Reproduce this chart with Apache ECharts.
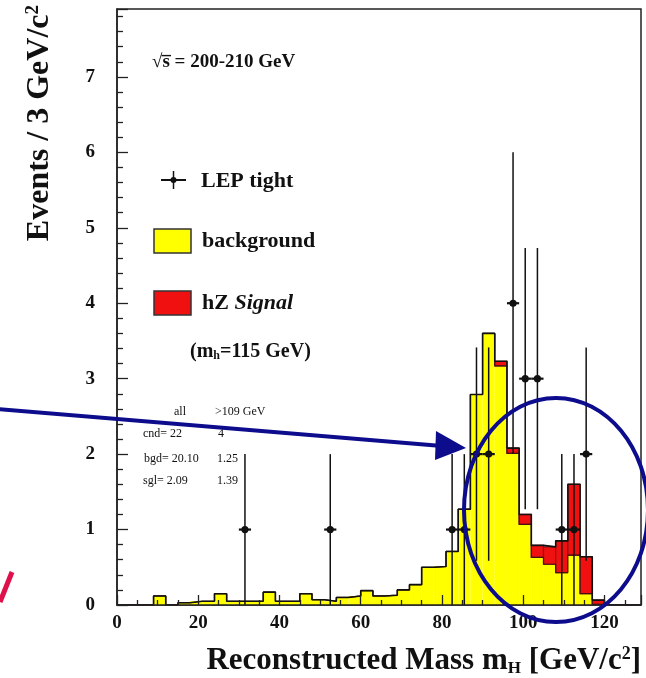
<!DOCTYPE html>
<html>
<head>
<meta charset="utf-8">
<script src="https://cdn.jsdelivr.net/npm/echarts@6/dist/echarts.min.js"></script>
<style>
  html, body { margin: 0; padding: 0; background: #ffffff; }
  #main { width: 646px; height: 678px; }
</style>
</head>
<body>
<div id="main"></div>
<script>
// Histogram binning: 3 GeV/c^2 bins starting at 0
const binWidth = 3;
const binStart = 0;

// Expected background per bin (events / 3 GeV/c^2)
const background = [
  0, 0, 0, 0.12, 0, 0.03, 0.05, 0.05, 0.15, 0.05,
  0.05, 0.05, 0.17, 0.05, 0.05, 0.15, 0.07, 0.05, 0.10, 0.12,
  0.19, 0.12, 0.13, 0.20, 0.27, 0.50, 0.51, 0.71, 1.27, 2.79,
  3.60, 3.17, 2.01, 1.07, 0.63, 0.54, 0.43, 0.66, 0.15, 0.01,
  0, 0, 0
];

// Expected hZ signal (m_h = 115 GeV) stacked on top of the background
const signal = [
  0, 0, 0, 0, 0, 0, 0, 0, 0, 0,
  0, 0, 0, 0, 0, 0, 0, 0, 0, 0,
  0, 0, 0, 0, 0, 0, 0, 0, 0, 0,
  0, 0.06, 0.07, 0.13, 0.16, 0.23, 0.42, 0.94, 0.49, 0.055,
  0, 0, 0
];

// Selected candidates (LEP tight): bin centre and event count
const dataMass = [31.5, 52.5, 82.5, 85.5, 88.5, 91.5, 97.5, 100.5, 103.5, 109.5, 112.5, 115.5];
const dataEvents = [1, 1, 1, 1, 2, 2, 4, 3, 3, 1, 1, 2];

// Axis ranges and tick spacing
const xRange = [0, 129];
const xStep = 20;
const yRange = [0, 7.9];
const yStep = 1;

const SERIF = '"Liberation Serif", "DejaVu Serif", serif';

const histData = background.map((b, i) => {
  const lo = binStart + i * binWidth;
  return [lo, lo + binWidth, b, signal[i]];
});

function stepLine(values) {
  const pts = [];
  values.forEach((v, i) => {
    const lo = binStart + i * binWidth;
    pts.push([lo, v], [lo + binWidth, v]);
  });
  return pts;
}
const totalValues = background.map((b, i) => b + signal[i]);

const chart = echarts.init(document.getElementById('main'), null, { renderer: 'canvas' });

const tickFont = { fontFamily: SERIF, fontWeight: 'bold', fontSize: 19, color: '#111' };

const option = {
  animation: false,
  backgroundColor: '#ffffff',
  grid: {
    left: 117, right: 5, top: 9, bottom: 73,
    show: true, borderColor: '#222', borderWidth: 1.5,
    backgroundColor: 'transparent',
    outerBoundsMode: 'none'
  },
  xAxis: {
    type: 'value', min: xRange[0], max: xRange[1], interval: xStep, z: 10,
    axisLine: { show: true, onZero: false, lineStyle: { color: '#222', width: 1.5 } },
    axisTick: { show: true, inside: true, length: 10, lineStyle: { color: '#222', width: 1.3 } },
    minorTick: { show: true, splitNumber: 4, length: 5, lineStyle: { color: '#222', width: 1.3 } },
    axisLabel: Object.assign({ margin: 9, showMaxLabel: false }, tickFont),
    splitLine: { show: false }
  },
  yAxis: {
    type: 'value', min: yRange[0], max: yRange[1], interval: yStep, z: 10,
    axisLine: { show: true, onZero: false, lineStyle: { color: '#222', width: 1.5 } },
    axisTick: { show: true, inside: true, length: 11, lineStyle: { color: '#222', width: 1.3 } },
    minorTick: { show: true, splitNumber: 5, length: 6, lineStyle: { color: '#222', width: 1.3 } },
    axisLabel: Object.assign({ margin: 22, showMaxLabel: false }, tickFont),
    splitLine: { show: false }
  },
  series: [
    {
      name: 'background + signal',
      type: 'custom',
      data: histData,
      z: 2,
      renderItem(params, api) {
        const lo = api.value(0), hi = api.value(1), b = api.value(2), s = api.value(3);
        const p0 = api.coord([lo, 0]);
        const p1 = api.coord([hi, b]);
        const p2 = api.coord([hi, b + s]);
        const children = [];
        if (b > 0) {
          children.push({
            type: 'rect',
            shape: { x: p0[0], y: p1[1], width: p1[0] - p0[0], height: p0[1] - p1[1] },
            style: { fill: '#ffff00' }
          });
        }
        if (s > 0) {
          children.push({
            type: 'rect',
            shape: { x: p0[0], y: p2[1], width: p1[0] - p0[0], height: p1[1] - p2[1] },
            style: { fill: '#f01010', stroke: '#8a1414', lineWidth: 1.2 }
          });
        }
        return { type: 'group', children };
      }
    },
    {
      name: 'background outline',
      type: 'line',
      data: stepLine(background),
      symbol: 'none',
      z: 3,
      lineStyle: { color: '#4a1010', width: 1.2 }
    },
    {
      name: 'total outline',
      type: 'line',
      data: stepLine(totalValues),
      symbol: 'none',
      z: 4,
      lineStyle: { color: '#111', width: 1.6 }
    },
    {
      name: 'LEP tight',
      type: 'custom',
      z: 6,
      data: dataMass.map((m, i) => [m, dataEvents[i]]),
      renderItem(params, api) {
        const m = api.value(0), n = api.value(1);
        const err = Math.sqrt(n);
        const top = api.coord([m, n + err]);
        const bot = api.coord([m, Math.max(0, n - err)]);
        const left = api.coord([m - binWidth / 2, n]);
        const right = api.coord([m + binWidth / 2, n]);
        const c = api.coord([m, n]);
        return {
          type: 'group',
          children: [
            { type: 'line', shape: { x1: top[0], y1: top[1], x2: bot[0], y2: bot[1] }, style: { stroke: '#111', lineWidth: 1.5 } },
            { type: 'line', shape: { x1: left[0], y1: left[1], x2: right[0], y2: right[1] }, style: { stroke: '#111', lineWidth: 2.2 } },
            { type: 'circle', shape: { cx: c[0], cy: c[1], r: 3.6 }, style: { fill: '#111' } }
          ]
        };
      }
    }
  ],
  graphic: [
    // y-axis title
    {
      type: 'text', x: 40, y: 5, rotation: Math.PI / 2, z: 20,
      style: {
        text: 'Events / 3 GeV/c{sup|2}',
        font: 'bold 32px ' + SERIF, fill: '#111',
        align: 'right', verticalAlign: 'middle',
        rich: { sup: { font: 'bold 19px ' + SERIF, fill: '#111', verticalAlign: 'top', padding: [0, 0, 14, 0] } }
      }
    },
    // x-axis title
    {
      type: 'text', x: 641, y: 661, z: 20,
      style: {
        text: 'Reconstructed Mass m{sub|H} [GeV/c{sup|2}]',
        font: 'bold 31px ' + SERIF, fill: '#111',
        align: 'right', verticalAlign: 'middle',
        rich: {
          sub: { font: 'bold 17px ' + SERIF, fill: '#111', verticalAlign: 'bottom', padding: [10, 0, 0, 0] },
          sup: { font: 'bold 18px ' + SERIF, fill: '#111', verticalAlign: 'top', padding: [0, 0, 14, 0] }
        }
      }
    },
    // centre-of-mass energy
    {
      type: 'text', x: 152, y: 62, z: 20,
      style: { text: '\u221As\u0305 = 200-210 GeV', font: 'bold 19px ' + SERIF, fill: '#111', verticalAlign: 'middle' }
    },
    // legend: data marker
    { type: 'line', z: 20, shape: { x1: 161, y1: 180, x2: 186, y2: 180 }, style: { stroke: '#111', lineWidth: 2 } },
    { type: 'line', z: 20, shape: { x1: 173.5, y1: 171, x2: 173.5, y2: 189 }, style: { stroke: '#111', lineWidth: 1.5 } },
    { type: 'circle', z: 20, shape: { cx: 173.5, cy: 180, r: 3 }, style: { fill: '#111' } },
    { type: 'text', x: 201, y: 181, z: 20, style: { text: 'LEP tight', font: 'bold 22px ' + SERIF, fill: '#111', verticalAlign: 'middle' } },
    // legend: background
    { type: 'rect', z: 20, shape: { x: 154, y: 229, width: 37, height: 24 }, style: { fill: '#ffff00', stroke: '#333', lineWidth: 1.5 } },
    { type: 'text', x: 202, y: 241, z: 20, style: { text: 'background', font: 'bold 22px ' + SERIF, fill: '#111', verticalAlign: 'middle' } },
    // legend: signal
    { type: 'rect', z: 20, shape: { x: 154, y: 291, width: 37, height: 24 }, style: { fill: '#f01010', stroke: '#333', lineWidth: 1.5 } },
    {
      type: 'text', x: 202, y: 303, z: 20,
      style: {
        text: '{b|hZ }{i|Signal}', font: 'bold 22px ' + SERIF, fill: '#111', verticalAlign: 'middle',
        rich: { b: { font: 'bold 22px ' + SERIF, fill: '#111' }, i: { font: 'italic bold 22px ' + SERIF, fill: '#111' } }
      }
    },
    {
      type: 'text', x: 190, y: 352, z: 20,
      style: {
        text: '(m{sub|h}=115 GeV)', font: 'bold 20px ' + SERIF, fill: '#111', verticalAlign: 'middle',
        rich: { sub: { font: 'bold 12px ' + SERIF, fill: '#111', verticalAlign: 'bottom', padding: [8, 0, 0, 0] } }
      }
    },
    // candidate summary table
    { type: 'text', x: 174, y: 412, z: 20, style: { text: 'all', font: '12px ' + SERIF, fill: '#111', verticalAlign: 'middle' } },
    { type: 'text', x: 215, y: 412, z: 20, style: { text: '>109 GeV', font: '12px ' + SERIF, fill: '#111', verticalAlign: 'middle' } },
    { type: 'text', x: 143, y: 434, z: 20, style: { text: 'cnd= 22', font: '12px ' + SERIF, fill: '#111', verticalAlign: 'middle' } },
    { type: 'text', x: 218, y: 434, z: 20, style: { text: '4', font: '12px ' + SERIF, fill: '#111', verticalAlign: 'middle' } },
    { type: 'text', x: 144, y: 459, z: 20, style: { text: 'bgd= 20.10', font: '12px ' + SERIF, fill: '#111', verticalAlign: 'middle' } },
    { type: 'text', x: 217, y: 459, z: 20, style: { text: '1.25', font: '12px ' + SERIF, fill: '#111', verticalAlign: 'middle' } },
    { type: 'text', x: 143, y: 481, z: 20, style: { text: 'sgl= 2.09', font: '12px ' + SERIF, fill: '#111', verticalAlign: 'middle' } },
    { type: 'text', x: 217, y: 481, z: 20, style: { text: '1.39', font: '12px ' + SERIF, fill: '#111', verticalAlign: 'middle' } },
    // hand-drawn highlight: arrow and ellipse around the high-mass region
    { type: 'line', z: 30, shape: { x1: -2, y1: 409, x2: 442, y2: 446 }, style: { stroke: '#0c0c8c', lineWidth: 4 } },
    { type: 'polygon', z: 30, shape: { points: [[466, 448], [436, 431], [435, 460]] }, style: { fill: '#0c0c8c' } },
    { type: 'ellipse', z: 30, shape: { cx: 556, cy: 510, rx: 92, ry: 112 }, style: { fill: null, stroke: '#0c0c8c', lineWidth: 4 } },
    { type: 'line', z: 30, shape: { x1: 0, y1: 602, x2: 12, y2: 572 }, style: { stroke: '#e0104a', lineWidth: 5 } }
  ]
};

chart.setOption(option);
</script>
</body>
</html>
